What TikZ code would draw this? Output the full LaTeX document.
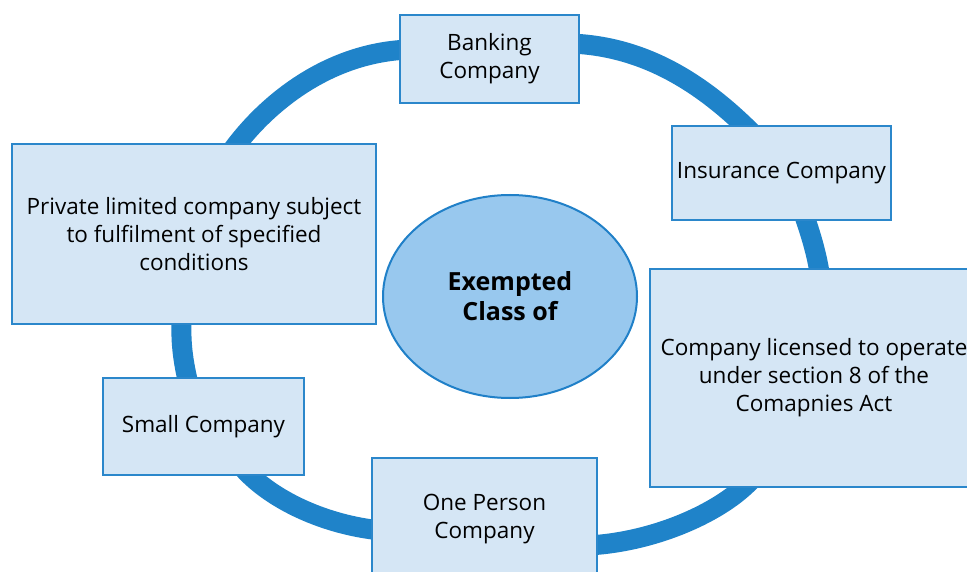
\documentclass[tikz,border=0pt]{standalone}
\usepackage{fontspec}
\setmainfont{Open Sans}
\usetikzlibrary{shapes.geometric}
\definecolor{ringblue}{RGB}{31,131,201}
\definecolor{boxfill}{RGB}{213,230,245}
\definecolor{boxline}{RGB}{43,135,203}
\definecolor{ellfill}{RGB}{152,200,238}
\definecolor{ellline}{RGB}{32,128,200}
\tikzset{
  itembox/.style={rectangle, draw=boxline, fill=boxfill, line width=2pt, align=center,
    font=\fontsize{22.5}{28}\selectfont, text=black, inner sep=0pt},
  hub/.style={ellipse, draw=ellline, fill=ellfill, line width=2pt, align=center,
    font=\fontsize{25}{30}\selectfont\bfseries, inner sep=0pt},
  ring/.style={draw=ringblue, line width=20pt}
}
\begin{document}
\begin{tikzpicture}[x=1pt,y=-1pt]
\useasboundingbox (0,0) rectangle (967,572);
\clip (0,0) rectangle (967,572);
\fill[white] (0,0) rectangle (967,572);
% ring segments between the boxes
\coordinate (a0) at (231,152);
\coordinate (a1) at (410,49.5);
\coordinate (b0) at (570,43.5);
\coordinate (b1) at (752,133);
\coordinate (c0) at (803,212);
\coordinate (c1) at (820,276);
\coordinate (d0) at (752,479);
\coordinate (d1) at (588,545.5);
\coordinate (e0) at (244,469);
\coordinate (e1) at (381,530.5);
\coordinate (f0) at (182,315);
\coordinate (f1) at (189,386);
\draw[ring] (a0) .. controls (267,102) and (330,52) .. (a1);
\draw[ring] (b0) .. controls (645,46) and (703,84) .. (b1);
\draw[ring] (c0) .. controls (810,232) and (817,254) .. (c1);
\draw[ring] (d0) .. controls (722,512) and (655,542) .. (d1);
\draw[ring] (e0) .. controls (272,500) and (325,525) .. (e1);
\draw[ring] (f0) .. controls (180,340) and (183,362) .. (f1);
\node[hub, minimum width=254pt, minimum height=203pt] (hub) at (510,296.5) {Exempted\\Class of};
\node[itembox, minimum width=179pt, minimum height=88pt] (bank) at (489.5,59) {Banking\\Company};
\node[itembox, minimum width=219pt, minimum height=94pt] (ins) at (781.5,173) {Insurance Company};
\node[itembox, minimum width=328pt, minimum height=218pt] (sec8) at (814,378) {Company licensed to operate\\under section 8 of the\\Comapnies Act};
\node[itembox, minimum width=225pt, minimum height=122pt] (opc) at (484.5,519) {One Person\\Company};
\node[itembox, minimum width=201pt, minimum height=97pt] (small) at (203.5,426.5) {Small Company};
\node[itembox, minimum width=364pt, minimum height=180pt] (priv) at (194,234) {Private limited company subject\\to fulfilment of specified\\conditions};
\end{tikzpicture}
\end{document}
